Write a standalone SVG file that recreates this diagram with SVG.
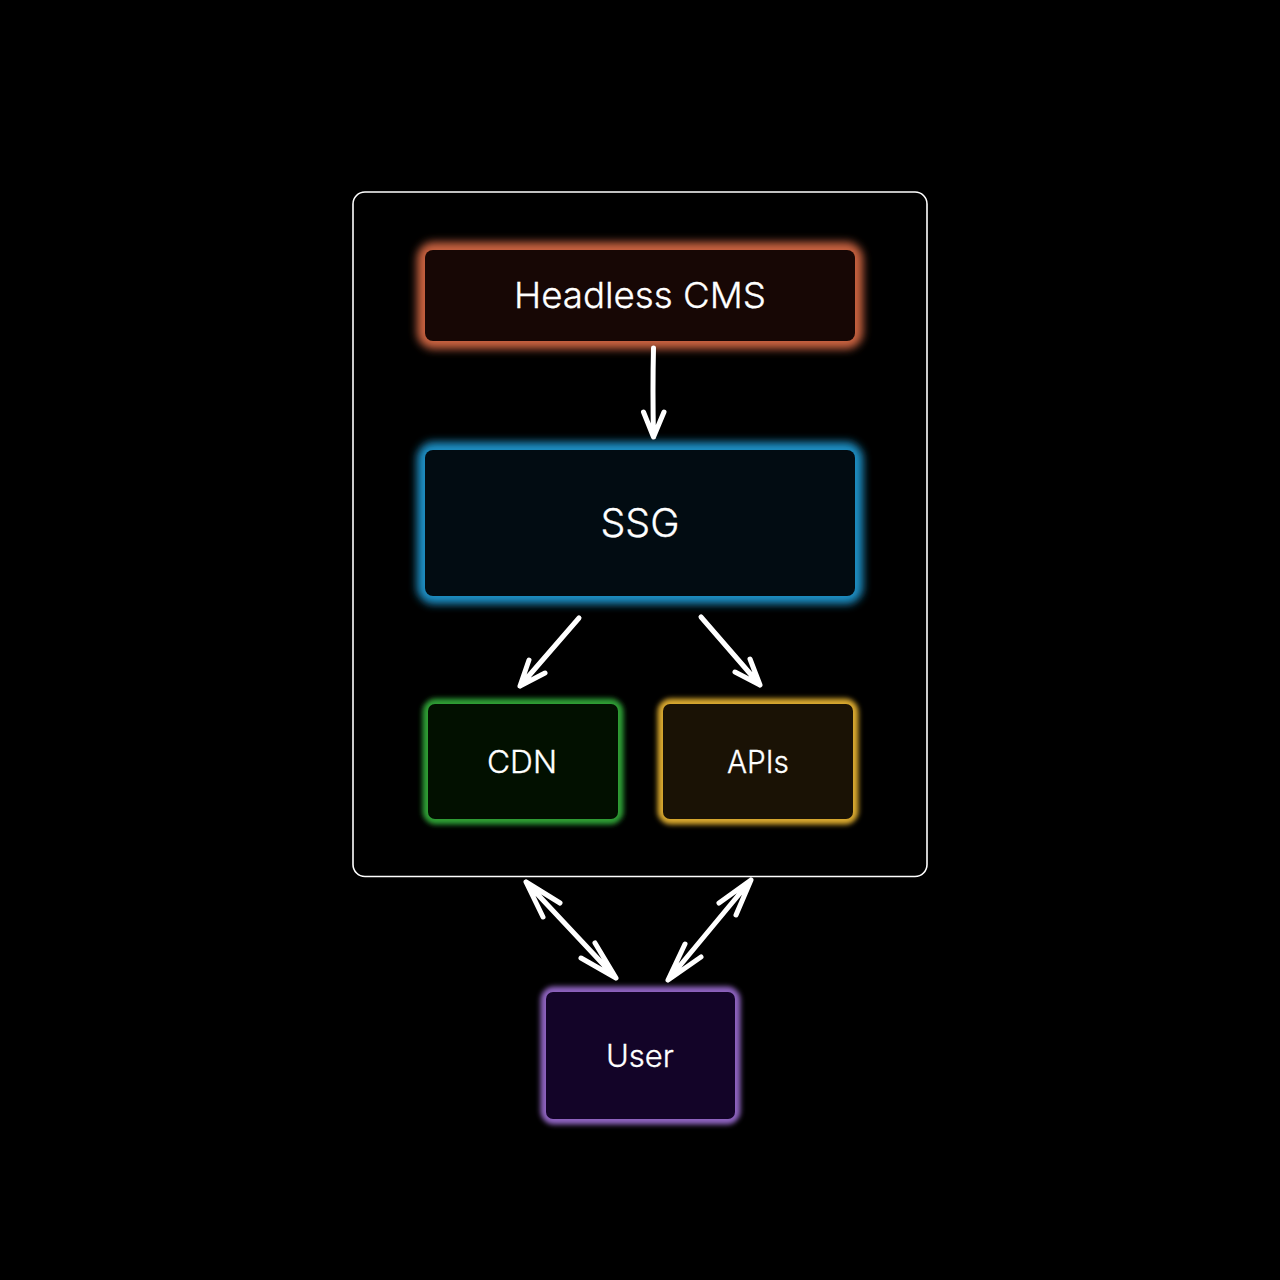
<svg xmlns="http://www.w3.org/2000/svg" width="1280" height="1280" viewBox="0 0 1280 1280">
<style>
.glow{stroke-width:16;filter:url(#blur)}
.small{stroke-width:11;filter:url(#blur2)}
.label{font-family:"Inter","Liberation Sans",sans-serif;font-weight:300;fill:#fff;text-anchor:middle;stroke:#fff;stroke-width:.3}
.conn{fill:none;stroke:#fff;stroke-width:5;stroke-linecap:round;stroke-linejoin:round}
</style>
<defs>
<filter id="blur" x="-20%" y="-30%" width="140%" height="160%"><feGaussianBlur stdDeviation="4"/></filter>
<filter id="blur2" x="-20%" y="-30%" width="140%" height="160%"><feGaussianBlur stdDeviation="2.800"/></filter>
</defs>
<rect width="1280" height="1280" fill="#000"/>
<rect id="boundary" x="353" y="192" width="574" height="684.500" rx="12" fill="none" stroke="#fff" stroke-width="1.600"/>
<g id="headless-cms">
<rect class="glow" x="425" y="250" width="430" height="91" rx="9" fill="#c8623f" stroke="#c8623f"/>
<rect x="425" y="250" width="430" height="91" rx="8" fill="#170705"/>
<text class="label" x="640" y="308" font-size="36" textLength="252" lengthAdjust="spacingAndGlyphs">Headless CMS</text>
</g>
<g id="ssg">
<rect class="glow" x="425" y="450" width="430" height="146" rx="9" fill="#1f8fc4" stroke="#1f8fc4"/>
<rect x="425" y="450" width="430" height="146" rx="8" fill="#020c12"/>
<text class="label" x="640" y="537" font-size="39" textLength="79" lengthAdjust="spacingAndGlyphs">SSG</text>
</g>
<g id="cdn">
<rect class="small" x="428" y="704" width="190" height="115" rx="8" fill="#2f9e35" stroke="#2f9e35"/>
<rect x="428" y="704" width="190" height="115" rx="7" fill="#021000"/>
<text class="label" x="522" y="773" font-size="31" textLength="70" lengthAdjust="spacingAndGlyphs">CDN</text>
</g>
<g id="apis">
<rect class="small" x="663" y="704" width="190" height="115" rx="8" fill="#d9a82e" stroke="#d9a82e"/>
<rect x="663" y="704" width="190" height="115" rx="7" fill="#1a1205"/>
<text class="label" x="758" y="773" font-size="31" textLength="62" lengthAdjust="spacingAndGlyphs">APIs</text>
</g>
<g id="user">
<rect class="small" x="546" y="992" width="189" height="127" rx="8" fill="#8e63c0" stroke="#8e63c0"/>
<rect x="546" y="992" width="189" height="127" rx="7" fill="#130428"/>
<text class="label" x="640" y="1067" font-size="31" textLength="68" lengthAdjust="spacingAndGlyphs">User</text>
</g>
<g id="connectors" class="conn">
<path d="M653.500 348Q652.500 390 653.500 437M643.500 412L653.500 437L664 412"/>
<path d="M579 618L520 686M529 660L520 686L545 673"/>
<path d="M701 617L760 685M750 659L760 685L735 672"/>
<path d="M526 882L616 978M543 917L526 882L560 903M595 943L616 978L581 958"/>
<path d="M751 880L668 980M736 915L751 880L719 903M685 944L668 980L701 957"/>
</g>
</svg>
